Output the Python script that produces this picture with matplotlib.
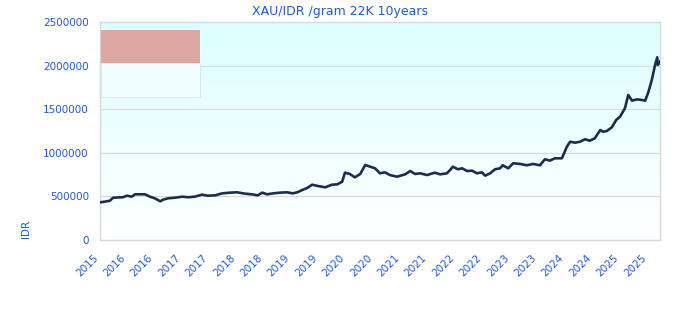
import numpy as np
import matplotlib
matplotlib.use("Agg")
import matplotlib.pyplot as plt
from matplotlib.patches import Rectangle

# decimal year of each reading
years = [2015.25, 2015.34, 2015.43, 2015.49, 2015.58, 2015.67, 2015.74, 2015.83, 2015.89, 2015.98,
         2016.07, 2016.16, 2016.25, 2016.35, 2016.40, 2016.49, 2016.62, 2016.75, 2016.86, 2016.98,
         2017.11, 2017.22, 2017.35, 2017.48, 2017.62, 2017.75, 2017.90, 2018.02, 2018.13, 2018.21,
         2018.30, 2018.41, 2018.54, 2018.66, 2018.77, 2018.85, 2018.94, 2019.03, 2019.12, 2019.23,
         2019.36, 2019.48, 2019.58, 2019.67, 2019.72, 2019.81, 2019.90, 2020.00, 2020.09, 2020.18,
         2020.27, 2020.36, 2020.45, 2020.54, 2020.67, 2020.82, 2020.91, 2021.00, 2021.09, 2021.22,
         2021.36, 2021.46, 2021.58, 2021.64, 2021.69, 2021.78, 2021.86, 2021.95, 2022.04, 2022.13,
         2022.22, 2022.28, 2022.37, 2022.46, 2022.55, 2022.60, 2022.70, 2022.79, 2022.92, 2023.04,
         2023.15, 2023.28, 2023.37, 2023.46, 2023.55, 2023.68, 2023.72, 2023.77, 2023.83, 2023.92,
         2024.01, 2024.10, 2024.19, 2024.28, 2024.38, 2024.43, 2024.50, 2024.59, 2024.67, 2024.74,
         2024.83, 2024.89, 2024.96, 2025.05, 2025.14, 2025.20, 2025.26, 2025.32, 2025.38, 2025.42,
         2025.43, 2025.47]

# price in IDR per gram
price = [432000, 440000, 450000, 485000, 488000, 490000, 508000, 497000, 524000, 524000,
         524000, 497000, 478000, 444000, 462000, 478000, 485000, 497000, 490000, 497000,
         520000, 508000, 512000, 535000, 543000, 547000, 531000, 524000, 512000, 543000,
         524000, 535000, 543000, 547000, 535000, 547000, 573000, 596000, 634000, 619000,
         604000, 634000, 638000, 669000, 772000, 757000, 719000, 757000, 860000, 841000,
         822000, 765000, 776000, 745000, 726000, 753000, 791000, 757000, 765000, 745000,
         772000, 753000, 765000, 803000, 841000, 811000, 822000, 791000, 795000, 765000,
         776000, 738000, 765000, 811000, 822000, 857000, 822000, 880000, 872000, 857000,
         872000, 857000, 926000, 910000, 937000, 937000, 995000, 1070000, 1127000, 1116000,
         1127000, 1155000, 1139000, 1166000, 1261000, 1242000, 1250000, 1292000, 1376000, 1414000,
         1510000, 1663000, 1598000, 1613000, 1606000, 1598000, 1701000, 1835000, 2007000, 2095000,
         2007000, 2045000]

tick_pos = [2015.25 + 0.5 * i for i in range(21)]
tick_labels = ["2015", "2016", "2016", "2017", "2017", "2018", "2018", "2019", "2019", "2020",
               "2020", "2021", "2021", "2022", "2022", "2023", "2023", "2024", "2024", "2025", "2025"]

blue = "#1f5ad8"
grid = "#d9d9d9"

fig = plt.figure(figsize=(6.8, 3.2), dpi=100)
ax = fig.add_axes([100/680, 80/320, 560/680, 218/320])

# cyan to white background
grad = np.linspace(0, 1, 256).reshape(-1, 1)
top = np.array([220, 255, 255]) / 255.0
bot = np.array([255, 255, 255]) / 255.0
img = top[None, None, :] * (1 - grad[:, :, None]) + bot[None, None, :] * grad[:, :, None]
ax.imshow(img, extent=[0, 1, 0, 1], transform=ax.transAxes, aspect="auto", zorder=0)

ax.plot(years, price, color="#1b2d4f", linewidth=1.9, zorder=3)

ax.set_xlim(2015.25, 2025.47)
ax.set_ylim(0, 2500000)
ax.set_yticks(range(0, 2500001, 500000))
ax.set_yticklabels([str(v) for v in range(0, 2500001, 500000)])
ax.set_xticks(tick_pos)
ax.set_xticklabels(tick_labels, rotation=45, ha="right", va="top")
ax.tick_params(axis="both", length=0, labelsize=7.5, labelcolor=blue)
ax.tick_params(axis="y", pad=8)
ax.tick_params(axis="x", pad=9)
ax.grid(axis="y", color=grid, linewidth=0.8, zorder=1)
ax.set_axisbelow(True)
for s in ax.spines.values():
    s.set_color(grid)
    s.set_linewidth(1.0)

ax.set_title("XAU/IDR /gram 22K 10years", fontsize=9, color=blue, x=0.428, pad=5)
fig.text(26/680, (320 - 229)/320, "IDR", rotation=90, ha="center", va="center",
         fontsize=7.5, color=blue)

# legend box artifact
fig.patches.append(Rectangle((101/680, (320 - 97)/320), 99/680, 34/320, transform=fig.transFigure,
                             facecolor="#f0fffe", edgecolor="#e2e6e6", linewidth=0.8, zorder=5))
fig.patches.append(Rectangle((101/680, (320 - 63)/320), 99/680, 33/320, transform=fig.transFigure,
                             facecolor="#dea8a0", edgecolor="none", zorder=6))

fig.savefig("out.png", dpi=100)
